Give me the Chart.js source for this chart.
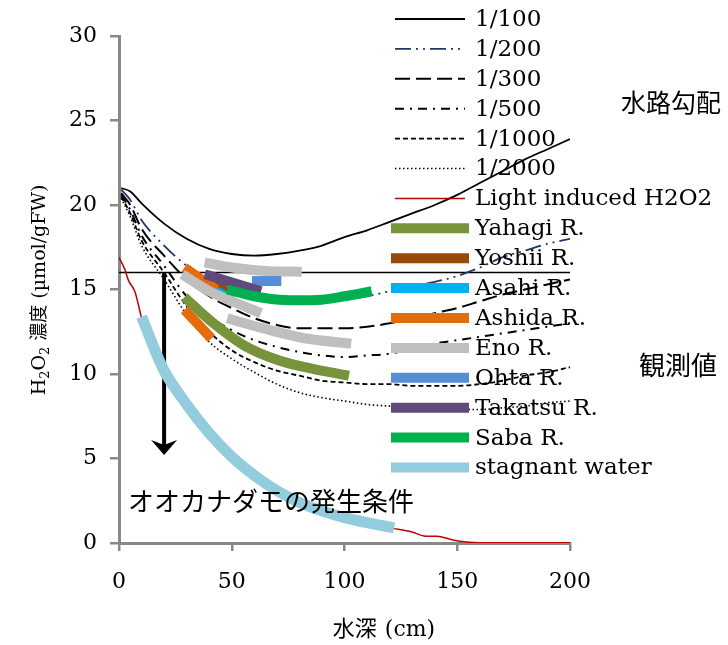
<!DOCTYPE html>
<html>
<head>
<meta charset="utf-8">
<script src="https://cdn.jsdelivr.net/npm/chart.js@4.4.1/dist/chart.umd.min.js"></script>
<style>
  html, body { margin: 0; padding: 0; background: #fff; }
  #c { display: block; }
</style>
</head>
<body>
<canvas id="c" width="728" height="645"></canvas>
<script>
// --- DATA ---
const depth = [1, 5, 10, 20, 30, 40, 50, 60, 70, 80, 90, 100, 110, 120, 130, 140, 150, 160, 170, 180, 190, 200];
const slope100  = [21.0, 20.8, 20.1, 18.9, 18.0, 17.4, 17.1, 17.0, 17.1, 17.3, 17.6, 18.1, 18.5, 19.0, 19.5, 20.0, 20.6, 21.3, 22.0, 22.7, 23.3, 23.9];
const slope200  = [20.9, 20.3, 19.1, 17.6, 16.4, 15.5, 15.0, 14.6, 14.4, 14.3, 14.3, 14.4, 14.6, 14.9, 15.2, 15.45, 15.8, 16.3, 16.9, 17.3, 17.7, 18.0];
const slope300  = [20.7, 20.0, 18.6, 17.0, 15.6, 14.6, 13.9, 13.3, 12.9, 12.7, 12.7, 12.7, 12.8, 13.0, 13.3, 13.6, 13.9, 14.3, 14.7, 15.0, 15.3, 15.6];
const slope500  = [20.6, 19.7, 18.2, 16.4, 14.6, 13.4, 12.6, 12.0, 11.6, 11.3, 11.1, 11.0, 11.1, 11.2, 11.5, 11.8, 12.0, 12.2, 12.4, 12.6, 12.8, 13.0];
const slope1000 = [20.5, 19.5, 17.9, 16.0, 14.0, 12.5, 11.4, 10.7, 10.2, 9.9, 9.6, 9.5, 9.4, 9.4, 9.3, 9.3, 9.3, 9.4, 9.6, 9.9, 10.1, 10.4];
const slope2000 = [20.4, 19.3, 17.6, 15.6, 13.5, 11.9, 10.9, 10.1, 9.4, 8.9, 8.6, 8.4, 8.2, 8.1, 8.0, 7.9, 7.9, 7.9, 8.0, 8.1, 8.3, 8.4];

const lightX = [0, 2.7, 4, 7.1, 9.3, 10, 20, 30, 40, 50, 60, 70, 80, 90, 100, 110, 122, 130, 136, 141, 148, 154, 160, 200];
const lightY = [16.9, 16.15, 15.6, 14.85, 13.7, 13.3, 10.1, 8.0, 6.4, 5.0, 3.9, 3.0, 2.3, 1.8, 1.4, 1.1, 0.85, 0.65, 0.4, 0.4, 0.18, 0.06, 0.02, 0.02];

const yahagiX = [29, 41, 56, 71, 86, 102];
const yahagiY = [14.55, 13.1, 11.65, 10.8, 10.3, 9.9];
const yoshiiX = [42, 51];
const yoshiiY = [15.3, 14.6];
const asahiX = [40, 50];
const asahiY = [15.1, 14.4];
const ashidaX = [29, 43, 43, 29, 41];
const ashidaY = [16.3, 15.0, null, 13.8, 12.1];
const enoX = [38, 50, 65, 81, 81, 28, 40, 52, 63, 63, 48, 64, 83, 103];
const enoY = [16.6, 16.3, 16.1, 16.05, null, 15.9, 14.9, 14.2, 13.6, null, 13.3, 12.7, 12.1, 11.8];
const ohtaX = [59, 72];
const ohtaY = [15.5, 15.5];
const takatsuX = [38, 63];
const takatsuY = [15.9, 14.9];
const sabaX = [48, 60, 71, 90, 100, 112];
const sabaY = [15.0, 14.6, 14.4, 14.4, 14.6, 14.9];
const stagnantX = [10, 20, 30, 40, 50, 60, 70, 80, 90, 100, 110, 122];
const stagnantY = [13.4, 10.2, 8.2, 6.5, 5.1, 4.0, 3.1, 2.4, 1.9, 1.5, 1.2, 0.9];

const thresholdX = [0, 200];
const thresholdY = [16, 16];
const arrowX = 20, arrowTop = 16, arrowTip = 5.2;

// --- HELPERS ---
const pts = (xs, ys) => xs.map((x, i) => ({ x, y: ys[i] }));
const SERIF = "'DejaVu Serif', 'Liberation Serif', serif";
const JP = "'Noto Sans CJK JP', 'Noto Sans', sans-serif";

const curve = (label, xs, ys, color, width, dash) => ({
    label, data: pts(xs, ys), borderColor: color, borderWidth: width, borderDash: dash,
    cubicInterpolationMode: 'monotone', inLegend: true
});
const band = (label, xs, ys, color, width) => ({
    label, data: pts(xs, ys), borderColor: color, borderWidth: width, tension: 0.3, inLegend: true
});

const datasets = [
    curve('1/100', depth, slope100, '#000000', 1.8, []),
    curve('1/200', depth, slope200, '#1f3864', 1.8, [16, 5, 2, 5, 2, 5]),
    curve('1/300', depth, slope300, '#000000', 2, [15, 6]),
    curve('1/500', depth, slope500, '#000000', 2, [9, 6, 2, 6]),
    curve('1/1000', depth, slope1000, '#000000', 1.8, [5, 3]),
    curve('1/2000', depth, slope2000, '#000000', 1.6, [1.5, 2.5]),
    curve('Light induced H2O2', lightX, lightY, '#c00000', 1.5, []),
    band('Yahagi R.', yahagiX, yahagiY, '#77933c', 10),
    band('Yoshii R.', yoshiiX, yoshiiY, '#984807', 10),
    band('Asahi R.', asahiX, asahiY, '#00b0f0', 10),
    band('Ashida R.', ashidaX, ashidaY, '#e46c0a', 10),
    band('Eno R.', enoX, enoY, '#bfbfbf', 10),
    band('Ohta R.', ohtaX, ohtaY, '#558ed5', 10),
    band('Takatsu R.', takatsuX, takatsuY, '#604a7b', 10),
    band('Saba R.', sabaX, sabaY, '#00b050', 10),
    band('stagnant water', stagnantX, stagnantY, '#93cddd', 11)
];
// later series on top, like the original
datasets.forEach((ds, i) => { ds.order = 100 - i; });
datasets.push({ label: 'threshold', data: pts(thresholdX, thresholdY), borderColor: '#000', borderWidth: 1.5, order: 200, inLegend: false });

// --- PLUGINS ---
const arrowPlugin = {
    id: 'arrow',
    beforeDatasetsDraw(chart) {
        const { ctx, scales: { x, y } } = chart;
        const px = x.getPixelForValue(arrowX);
        const top = y.getPixelForValue(arrowTop);
        const tip = y.getPixelForValue(arrowTip);
        ctx.save();
        ctx.strokeStyle = '#000';
        ctx.fillStyle = '#000';
        ctx.lineWidth = 4;
        ctx.beginPath();
        ctx.moveTo(px, top);
        ctx.lineTo(px, tip - 8);
        ctx.stroke();
        ctx.beginPath();
        ctx.moveTo(px, tip);
        ctx.lineTo(px - 13, tip - 15);
        ctx.lineTo(px, tip - 10);
        ctx.lineTo(px + 13, tip - 15);
        ctx.closePath();
        ctx.fill();
        ctx.restore();
    }
};

const legendPlugin = {
    id: 'sideLegend',
    afterDatasetsDraw(chart) {
        const ctx = chart.ctx;
        ctx.save();
        let row = 0;
        chart.data.datasets.forEach(ds => {
            if (!ds.inLegend) return;
            const y = 19 + row * 29.9;
            const thick = ds.borderWidth > 4;
            ctx.beginPath();
            ctx.setLineDash(ds.borderDash || []);
            ctx.lineWidth = thick ? 10 : ds.borderWidth;
            ctx.strokeStyle = ds.borderColor;
            ctx.moveTo(thick ? 391 : 395, y);
            ctx.lineTo(thick ? 469 : 465, y);
            ctx.stroke();
            ctx.setLineDash([]);
            ctx.fillStyle = '#000';
            ctx.font = `23px ${SERIF}`;
            ctx.textBaseline = 'middle';
            ctx.textAlign = 'left';
            ctx.fillText(ds.label, 475, y + 1);
            row++;
        });
        ctx.restore();
    }
};

function drawRuns(ctx, runs, cx, cy, rotate, baseOff) {
    ctx.save();
    ctx.translate(cx, cy);
    if (rotate) ctx.rotate(-Math.PI / 2);
    let total = 0;
    runs.forEach(r => { ctx.font = r.font; r.w = ctx.measureText(r.t).width; total += r.w + (r.gap || 0); });
    let x = -total / 2;
    ctx.textBaseline = 'alphabetic';
    ctx.textAlign = 'left';
    ctx.fillStyle = '#000';
    runs.forEach(r => { ctx.font = r.font; ctx.fillText(r.t, x, baseOff + (r.dy || 0)); x += r.w + (r.gap || 0); });
    ctx.restore();
}

const textPlugin = {
    id: 'texts',
    afterDraw(chart) {
        const ctx = chart.ctx;
        ctx.save();
        ctx.fillStyle = '#000';
        ctx.textBaseline = 'middle';
        ctx.textAlign = 'center';
        ctx.font = `25px ${JP}`;
        ctx.fillText('水路勾配', 671, 102);
        ctx.font = `26px ${JP}`;
        ctx.fillText('観測値', 678, 365);
        ctx.textAlign = 'left';
        ctx.fillText('オオカナダモの発生条件', 128, 501);
        ctx.restore();

        drawRuns(ctx, [
            { t: 'H', font: `19px ${SERIF}` },
            { t: '2', font: `13px ${SERIF}`, dy: 4 },
            { t: 'O', font: `19px ${SERIF}` },
            { t: '2', font: `13px ${SERIF}`, dy: 4, gap: 6 },
            { t: '濃度', font: `18px ${JP}`, gap: 6 },
            { t: '(µmol/gFW)', font: `19px ${SERIF}` }
        ], 38, 290, true, 7);

        drawRuns(ctx, [
            { t: '水深', font: `22px ${JP}`, gap: 8 },
            { t: '(cm)', font: `22px ${SERIF}` }
        ], 384, 628, false, 8);
    }
};

// --- CHART ---
const axisGrey = '#898989';
new Chart(document.getElementById('c'), {
    type: 'line',
    data: { datasets },
    options: {
        responsive: false,
        animation: false,
        devicePixelRatio: 1,
        layout: { padding: { left: 0, top: 36, right: 158, bottom: 0 } },
        plugins: { legend: { display: false }, tooltip: { enabled: false } },
        elements: { point: { radius: 0 } },
        scales: {
            x: {
                type: 'linear', min: 0, max: 200,
                ticks: { stepSize: 50, color: '#000', font: { family: SERIF, size: 22 }, padding: 18, maxRotation: 0 },
                grid: { drawOnChartArea: false, drawTicks: true, tickLength: 8, color: axisGrey, lineWidth: 2.5 },
                border: { color: axisGrey, width: 3 },
                afterFit: s => { s.height = 102; }
            },
            y: {
                min: 0, max: 30,
                ticks: { stepSize: 5, color: '#000', font: { family: SERIF, size: 22 }, padding: 13 },
                grid: { drawOnChartArea: false, drawTicks: true, tickLength: 9, color: axisGrey, lineWidth: 2.5 },
                border: { color: axisGrey, width: 3 },
                afterFit: s => { s.width = 119; }
            }
        }
    },
    plugins: [arrowPlugin, legendPlugin, textPlugin]
});
</script>
</body>
</html>
